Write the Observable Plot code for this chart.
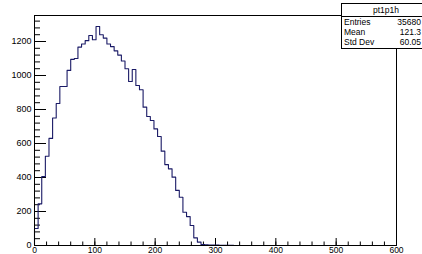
<!DOCTYPE html>
<html>
<head>
<meta charset="utf-8">
<script src="https://cdn.jsdelivr.net/npm/d3@7"></script>
<script src="https://cdn.jsdelivr.net/npm/@observablehq/plot@0.6"></script>
<style>
  html, body { margin: 0; padding: 0; background: #fff; }
  #wrap { position: relative; width: 422px; height: 254px; overflow: hidden; background: #fff; }
  #wrap svg { position: absolute; left: 0; top: 0; }
  #stats {
    position: absolute; left: 341px; top: 3px; width: 88px; height: 44px;
    border: 1px solid #000; background: #fff;
    font-family: "Liberation Sans", Arial, sans-serif; font-size: 8.5px; color: #000;
  }
  #stats .title { height: 12px; line-height: 12px; text-align: center; border-bottom: 1px solid #000; }
  #stats .row { position: relative; height: 10px; line-height: 10px; }
  #stats .row .k { position: absolute; left: 2px; }
  #stats .row .v { position: absolute; right: 9px; }
</style>
</head>
<body>
<div id="wrap"></div>
<script>
// Histogram "pt1p1h": 100 bins over [0, 600]
const histName = "pt1p1h";
const xRange = [0, 600];
const binValues = [
  100, 245, 405, 525, 630, 750, 835, 935, 935, 1030,
  1095, 1100, 1167, 1185, 1205, 1235, 1210, 1288, 1240, 1220,
  1185, 1170, 1145, 1120, 1085, 1040, 965, 1035, 941, 916,
  814, 759, 735, 686, 641, 555, 476, 451, 402, 324,
  284, 196, 170, 118, 45, 20, 6, 4, 3, 2,
  2, 1, 1, 1, 1, 0, 0, 0, 0, 0,
  0, 0, 0, 0, 0, 0, 0, 0, 0, 0,
  0, 0, 0, 0, 0, 0, 0, 0, 0, 0,
  0, 0, 0, 0, 0, 0, 0, 0, 0, 0,
  0, 0, 0, 0, 0, 0, 0, 0, 0, 0
];
const yMax = 1353;
const xTickLabels = [0, 100, 200, 300, 400, 500, 600];
const yTickLabels = [0, 200, 400, 600, 800, 1000, 1200];
const xMinorStep = 20;
const yMinorStep = 40;
const statLabels = ["Entries", "Mean", "Std Dev"];
const statValues = ["35680", "121.3", "60.05"];

const nBins = binValues.length;
const binW = (xRange[1] - xRange[0]) / nBins;
const pts = [{x: xRange[0], y: 0}];
binValues.forEach((v, i) => pts.push({x: xRange[0] + i * binW, y: v}));
pts.push({x: xRange[1], y: binValues[nBins - 1]});

const xMinor = d3.range(xRange[0], xRange[1] + 1e-9, xMinorStep);
const yMinor = d3.range(0, yMax, yMinorStep);

const W = 422, H = 254, mL = 34, mR = 26, mT = 15, mB = 9;
const fw = W - mL - mR, fh = H - mT - mB;
const ink = "#000";

const chart = Plot.plot({
  width: W, height: H,
  marginLeft: mL, marginRight: mR, marginTop: mT, marginBottom: mB,
  style: {fontFamily: "'Liberation Sans', Arial, sans-serif", fontSize: "8.5px", background: "#fff", color: "#000"},
  x: {domain: xRange},
  y: {domain: [0, yMax]},
  marks: [
    Plot.tickY(yMinor, {y: d => d, stroke: ink, insetRight: fw - 6}),
    Plot.tickY(yTickLabels, {y: d => d, stroke: ink, insetRight: fw - 12}),
    Plot.tickX(xMinor, {x: d => d, stroke: ink, insetTop: fh - 3.5}),
    Plot.tickX(xTickLabels, {x: d => d, stroke: ink, insetTop: fh - 7}),
    Plot.line(pts, {x: "x", y: "y", curve: "step-after", stroke: "#1a1a66", strokeWidth: 1.1}),
    Plot.frame({stroke: ink}),
    Plot.axisY(yTickLabels, {tickSize: 0, tickPadding: 3, label: null, fontSize: 9, tickFormat: d3.format("d")}),
    Plot.axisX(xTickLabels, {tickSize: 0, tickPadding: 1.5, label: null, fontSize: 8.5, tickFormat: d3.format("d")})
  ]
});

const wrap = document.getElementById("wrap");
wrap.appendChild(chart);

const box = document.createElement("div");
box.id = "stats";
let html = `<div class="title">${histName}</div>`;
statLabels.forEach((k, i) => {
  html += `<div class="row"><span class="k">${k}</span><span class="v">${statValues[i]}</span></div>`;
});
box.innerHTML = html;
wrap.appendChild(box);
</script>
</body>
</html>
